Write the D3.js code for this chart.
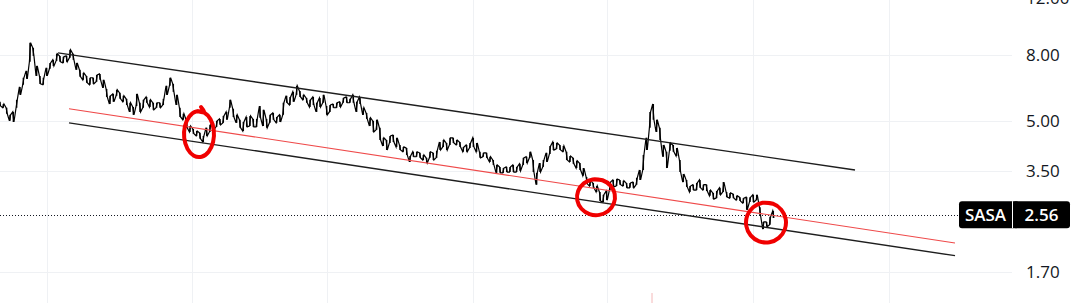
<!DOCTYPE html>
<html>
<head>
<meta charset="utf-8">
<script src="https://cdn.jsdelivr.net/npm/d3@7"></script>
<style>
	html, body { margin: 0; padding: 0; background: #ffffff; overflow: hidden; }
	svg { display: block; }
	.tick text { font-family: "Open Sans", "Noto Sans", sans-serif; }
</style>
</head>
<body>
<script>
// price bars, one sample every bar index
var highs = [5.73,5.64,5.49,5.22,5.33,5.81,6.37,6.80,7.14,8.73,8.42,7.40,6.89,6.80,7.30,7.56,7.73,8.07,7.95,7.90,
	7.95,8.30,8.07,7.56,7.20,7.04,6.89,6.80,6.80,6.94,6.99,6.70,6.28,5.98,6.06,6.24,6.11,5.98,5.85,5.69,
	5.52,6.06,5.69,5.81,5.93,5.81,5.69,5.69,5.69,5.85,6.42,6.80,6.51,6.02,5.49,5.26,5.04,4.82,4.72,4.65,
	4.59,4.49,4.76,4.86,4.93,5.00,5.07,5.18,5.33,5.81,5.45,5.22,5.04,4.96,5.14,5.18,5.07,5.07,5.56,5.41,
	5.07,5.22,5.29,5.14,5.22,5.69,5.98,5.93,6.15,6.42,6.19,6.02,5.89,5.81,5.93,5.69,5.89,6.02,5.56,5.60,
	5.64,5.69,5.73,5.89,5.93,5.85,6.02,5.73,5.93,5.49,5.29,5.11,5.00,5.04,4.76,4.43,4.36,4.49,4.52,4.43,
	4.21,4.15,4.12,3.89,4.01,4.01,3.98,3.92,3.84,4.01,3.98,4.04,4.30,4.36,4.27,4.43,4.43,4.36,4.30,4.15,
	4.21,4.27,4.43,4.27,4.01,3.98,3.98,3.87,3.78,3.65,3.60,3.57,3.60,3.60,3.65,3.60,3.68,3.84,3.87,4.01,
	3.78,3.45,3.70,3.78,3.98,4.18,4.30,4.27,4.21,4.18,4.01,3.89,3.84,3.76,3.70,3.57,3.35,3.26,3.21,3.14,
	3.01,2.95,3.03,3.23,3.28,3.30,3.28,3.26,3.21,3.21,3.23,3.33,3.52,3.92,4.43,5.33,5.64,5.04,4.76,4.21,
	4.01,4.27,4.21,4.12,3.78,3.42,3.28,3.14,3.17,3.21,3.28,3.17,3.17,3.05,2.99,3.03,3.10,3.23,3.01,2.99,
	2.97,2.93,2.90,2.88,2.90,2.90,2.95,2.95,2.70,2.43,2.43,2.52,2.63];
var lows = [5.56,5.49,5.26,5.00,4.96,5.49,6.02,6.47,6.75,7.62,7.95,6.89,6.51,6.47,6.89,7.25,7.40,7.67,7.62,7.56,
	7.62,7.84,7.73,7.20,6.85,6.70,6.56,6.47,6.51,6.61,6.70,6.33,5.93,5.64,5.73,5.98,5.85,5.73,5.60,5.33,
	5.22,5.56,5.33,5.49,5.69,5.52,5.41,5.49,5.49,5.60,6.02,6.42,6.15,5.60,5.14,5.04,4.76,4.62,4.56,4.49,
	4.40,4.30,4.49,4.62,4.69,4.79,4.86,4.93,5.04,5.49,5.14,4.93,4.76,4.65,4.79,4.82,4.79,4.79,5.11,4.82,
	4.76,4.93,5.04,4.93,4.96,5.22,5.69,5.60,5.73,6.02,5.93,5.81,5.69,5.52,5.60,5.33,5.52,5.69,5.22,5.33,
	5.49,5.49,5.52,5.69,5.69,5.69,5.69,5.33,5.64,5.22,5.07,4.82,4.62,4.69,4.36,4.18,4.06,4.27,4.30,4.15,
	4.06,4.01,3.92,3.73,3.87,3.87,3.84,3.78,3.70,3.84,3.78,3.84,4.06,4.15,4.06,4.21,4.27,4.21,4.15,4.01,
	4.01,4.12,4.15,4.01,3.84,3.87,3.84,3.73,3.65,3.45,3.45,3.45,3.47,3.47,3.47,3.47,3.50,3.65,3.70,3.84,
	3.47,3.17,3.47,3.60,3.73,3.95,4.06,4.09,4.06,4.01,3.78,3.73,3.68,3.57,3.52,3.38,3.19,3.14,3.10,3.01,
	2.82,2.80,2.84,3.05,3.12,3.14,3.17,3.14,3.10,3.10,3.10,3.17,3.28,3.52,4.06,4.76,5.04,4.62,4.36,3.87,
	3.57,4.04,4.01,3.89,3.47,3.23,3.12,3.01,3.05,3.05,3.10,3.05,3.03,2.93,2.86,2.88,2.95,3.01,2.90,2.88,
	2.88,2.84,2.82,2.78,2.65,2.80,2.80,2.84,2.54,2.31,2.35,2.38,2.50];

var lastPrice = 2.56;
var symbol = "SASA";
var priceTicks = [12, 8, 5, 3.5, 1.7];
var gridBars = [14.1, 57.6, 98.1, 141.9, 182.1, 225.9, 266.7];

// channel drawn by hand: [barIndex, price] pairs
var upperLine = [[17.4, 8.12], [256.5, 3.52]];
var midLine = [[20.7, 5.45], [286.5, 2.09]];
var lowerLine = [[20.7, 4.93], [286.5, 1.91]];

// red marker circles: centre as [barIndex, price]
var marks = [[59.7, 4.55], [178.8, 2.90], [229.8, 2.42]];
var markSize = [[15, 23], [19, 18], [20, 20]];
var markerBar = 195.6;

var width = 1088, height = 303, plotRight = 1012;

var svg = d3.select("body")
	.append("svg")
	.attr("width", width)
	.attr("height", height);

var x = d3.scaleLinear().domain([0, 300]).range([0, 1000]);
var y = d3.scaleLog().domain([1.7, 8]).range([272, 55]);

// grid
var grid = svg.append("g");
grid.selectAll("line.v")
	.data(gridBars)
	.enter()
	.append("line")
	.attr("x1", function(d){ return Math.round(x(d)) + 0.5; })
	.attr("x2", function(d){ return Math.round(x(d)) + 0.5; })
	.attr("y1", 0)
	.attr("y2", height)
	.attr("stroke", "#eff1f4")
	.attr("stroke-width", 1);
grid.selectAll("line.h")
	.data(priceTicks)
	.enter()
	.append("line")
	.attr("x1", 0)
	.attr("x2", plotRight)
	.attr("y1", function(d){ return Math.round(y(d)) + 0.5; })
	.attr("y2", function(d){ return Math.round(y(d)) + 0.5; })
	.attr("stroke", "#eff1f4")
	.attr("stroke-width", 1);

// small marker at bottom
svg.append("line")
	.attr("x1", x(markerBar)).attr("x2", x(markerBar))
	.attr("y1", 293).attr("y2", height)
	.attr("stroke", "#f4b8b8")
	.attr("stroke-width", 1);

// last price dotted line
svg.append("line")
	.attr("x1", 0)
	.attr("x2", 958)
	.attr("y1", Math.round(y(lastPrice)) + 0.5)
	.attr("y2", Math.round(y(lastPrice)) + 0.5)
	.attr("stroke", "#131722")
	.attr("stroke-width", 1)
	.attr("stroke-dasharray", "1,2");

// price bars: one trace that runs up and down each bar like a dense bar chart
var bars = highs.map(function(h, i){ return {i: i, high: h, low: lows[i]}; });

var trace = [];
bars.forEach(function(d){
	var a = d.i % 2 === 0 ? d.high : d.low;
	var b = d.i % 2 === 0 ? d.low : d.high;
	trace.push([x(d.i) - 0.6, y(a)]);
	trace.push([x(d.i) + 0.6, y(b)]);
});

svg.append("path")
	.attr("d", d3.line()(trace))
	.attr("fill", "none")
	.attr("stroke", "#000")
	.attr("stroke-width", 1.2)
	.attr("stroke-linejoin", "miter");

svg.selectAll("line.bar")
	.data(bars)
	.enter()
	.append("line")
	.attr("x1", function(d){ return x(d.i); })
	.attr("x2", function(d){ return x(d.i); })
	.attr("y1", function(d){ return y(d.high); })
	.attr("y2", function(d){ return y(d.low); })
	.attr("stroke", "#000")
	.attr("stroke-width", 1.4);

// channel lines
var trend = d3.line()
	.x(function(d){ return x(d[0]); })
	.y(function(d){ return y(d[1]); });

svg.append("path").attr("d", trend(upperLine))
	.attr("fill", "none").attr("stroke", "#1e1e1e").attr("stroke-width", 1.4);
svg.append("path").attr("d", trend(lowerLine))
	.attr("fill", "none").attr("stroke", "#1e1e1e").attr("stroke-width", 1.4);
svg.append("path").attr("d", trend(midLine))
	.attr("fill", "none").attr("stroke", "#ef4a4a").attr("stroke-width", 1.1);

// hand drawn circles
var loop = d3.line().curve(d3.curveCardinal);
marks.forEach(function(m, k){
	var cx = x(m[0]), cy = y(m[1]);
	var rx = markSize[k][0], ry = markSize[k][1];
	var pts = [];
	for (var a = -100; a <= 290; a += 30) {
		var t = a * Math.PI / 180;
		pts.push([cx + rx * Math.cos(t), cy + ry * Math.sin(t)]);
	}
	if (k === 0) pts.push([cx + 2, cy - ry - 4]);
	svg.append("path")
		.attr("d", loop(pts))
		.attr("fill", "none")
		.attr("stroke", "#f00000")
		.attr("stroke-width", 4)
		.attr("stroke-linecap", "round");
});

// price axis
var axis = svg.append("g")
	.attr("transform", "translate(" + plotRight + ",0)")
	.call(d3.axisRight(y).tickValues(priceTicks).tickFormat(d3.format(".2f")).tickSize(0).tickPadding(14));
axis.select(".domain").remove();
axis.selectAll("text")
	.attr("font-size", 17)
	.attr("fill", "#131722");

// last price label
var ly = y(lastPrice);
var label = svg.append("g");
label.append("rect")
	.attr("x", 959).attr("y", ly - 13.5)
	.attr("width", 60).attr("height", 27)
	.attr("rx", 3)
	.attr("fill", "#000");
label.append("rect")
	.attr("x", 1013).attr("y", ly - 13.5)
	.attr("width", 57).attr("height", 27)
	.attr("rx", 3)
	.attr("fill", "#000");
label.append("line")
	.attr("x1", 1012.5).attr("x2", 1012.5)
	.attr("y1", ly - 13.5).attr("y2", ly + 13.5)
	.attr("stroke", "#fff").attr("stroke-width", 1);
label.append("text")
	.attr("x", 985.5).attr("y", ly)
	.attr("dy", "0.35em")
	.attr("text-anchor", "middle")
	.attr("font-family", "'Open Sans', sans-serif")
	.attr("font-size", 17)
	.attr("font-weight", 600)
	.attr("fill", "#fff")
	.text(symbol);
label.append("text")
	.attr("x", 1041.5).attr("y", ly)
	.attr("dy", "0.35em")
	.attr("text-anchor", "middle")
	.attr("font-family", "'Open Sans', sans-serif")
	.attr("font-size", 17)
	.attr("font-weight", 600)
	.attr("fill", "#fff")
	.text(d3.format(".2f")(lastPrice));
</script>
</body>
</html>
